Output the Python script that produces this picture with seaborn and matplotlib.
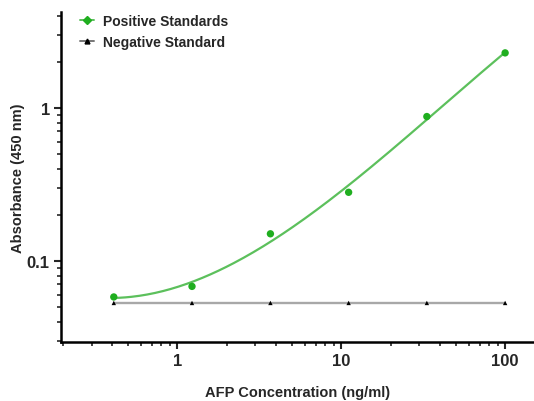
import numpy as np
import matplotlib
matplotlib.use("Agg")
import matplotlib.pyplot as plt
import seaborn as sns
from matplotlib.lines import Line2D
from matplotlib.ticker import LogLocator, NullFormatter

sns.set_style("ticks")
plt.rcParams['font.family'] = ['Liberation Sans', 'DejaVu Sans']
plt.rcParams['font.weight'] = 'bold'

# AFP standards (3-fold dilutions)
conc = [0.41, 1.23, 3.7, 11.1, 33.3, 100]
pos_abs = [0.058, 0.068, 0.150, 0.280, 0.875, 2.28]
neg_abs = [0.053, 0.053, 0.053, 0.053, 0.053, 0.053]

GREEN = "#1fae1f"
FIT_GREEN = "#5cc05c"

fig = plt.figure(figsize=(5.34, 4.02), dpi=100)
ax = fig.add_axes([0.114, 0.147, 0.886, 0.82])

# smooth fit through the positive standards in log-log space
coef = np.polyfit(np.log10(conc), np.log10(pos_abs), 3)
xs = np.logspace(np.log10(conc[0]), np.log10(conc[-1]), 200)
ys = 10 ** np.polyval(coef, np.log10(xs))
sns.lineplot(x=xs, y=ys, ax=ax, color=FIT_GREEN, linewidth=1.6)
sns.scatterplot(x=conc, y=pos_abs, ax=ax, color=GREEN, s=28, edgecolor="none", zorder=3)

sns.lineplot(x=conc, y=neg_abs, ax=ax, color="#a8a8a8", linewidth=1.7)
sns.scatterplot(x=conc, y=neg_abs, ax=ax, color="black", marker="^", s=10,
                edgecolor="none", zorder=3)

ax.set_xscale("log")
ax.set_yscale("log")
ax.set_xlim(0.195, 150)
ax.set_ylim(0.0295, 4.2)

ax.set_xticks([1, 10, 100])
ax.set_xticklabels(["1", "10", "100"])
ax.set_yticks([0.1, 1])
ax.set_yticklabels(["0.1", "1"])
ax.xaxis.set_minor_locator(LogLocator(base=10, subs=np.arange(2, 10)))
ax.yaxis.set_minor_locator(LogLocator(base=10, subs=np.arange(2, 10)))
ax.xaxis.set_minor_formatter(NullFormatter())
ax.yaxis.set_minor_formatter(NullFormatter())
ax.tick_params(which="major", length=5, width=1.5, labelsize=12, pad=3)
ax.tick_params(which="minor", length=3, width=1.2)

for s in ["left", "bottom"]:
    ax.spines[s].set_linewidth(1.8)
    ax.spines[s].set_color("black")
sns.despine(ax=ax)

ax.set_xlabel("AFP Concentration (ng/ml)", fontsize=10.5, fontweight="bold", labelpad=12)
ax.set_ylabel("Absorbance (450 nm)", fontsize=10.5, fontweight="bold", labelpad=1)

handles = [
    Line2D([], [], color=FIT_GREEN, marker="D", markersize=4.5,
           markerfacecolor=GREEN, markeredgecolor=GREEN, linewidth=1.4),
    Line2D([], [], color="#777777", marker="^", markersize=3.5,
           markerfacecolor="black", markeredgecolor="black", linewidth=1.4),
]
ax.legend(handles, ["Positive Standards", "Negative Standard"], loc="upper left",
          bbox_to_anchor=(0.015, 1.032), frameon=False, fontsize=10,
          handlelength=1.0, handletextpad=0.6, labelspacing=0.5)

fig.savefig("out.png", dpi=100, facecolor="white")
